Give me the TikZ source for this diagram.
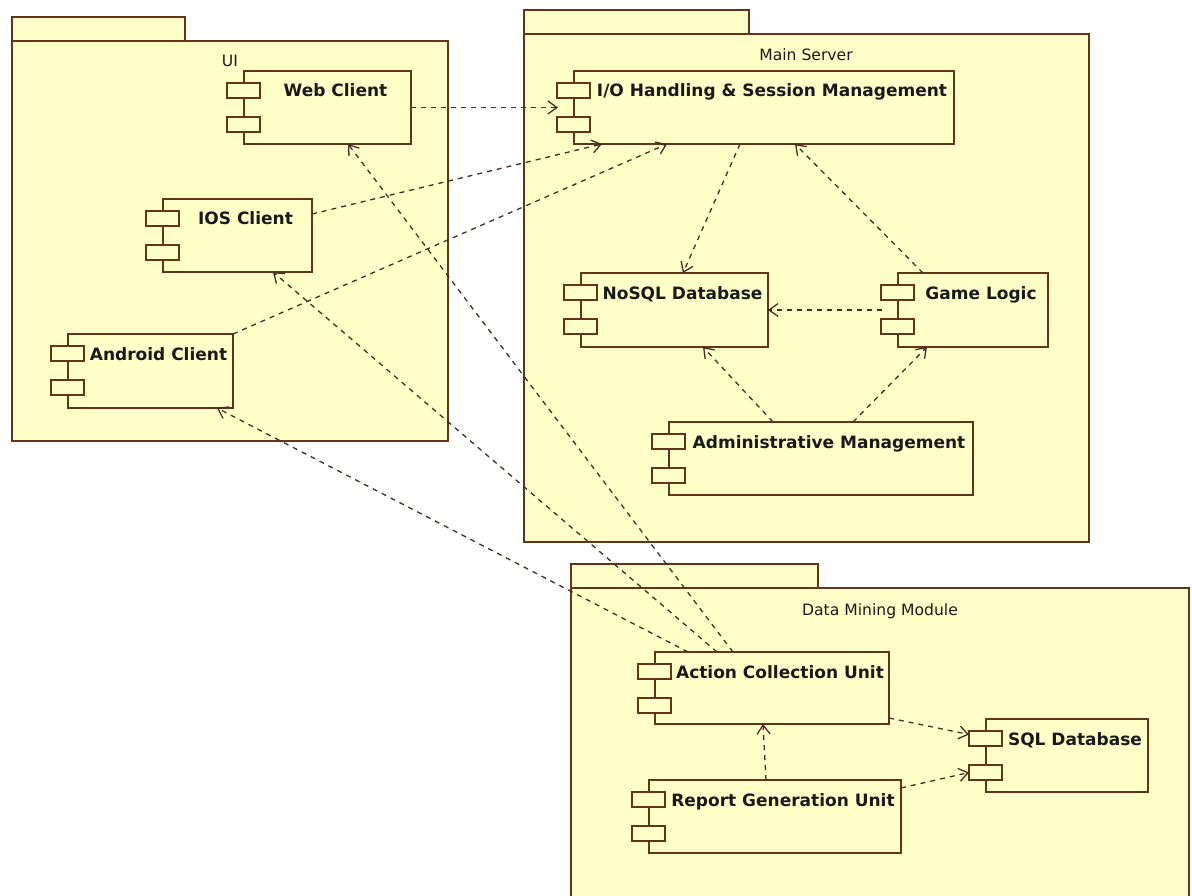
\documentclass[tikz,border=0pt]{standalone}
\usepackage{fontspec}
\setmainfont{DejaVu Sans}
\usetikzlibrary{arrows.meta,calc}
\definecolor{pkgfill}{RGB}{255,255,200}
\definecolor{edgecol}{RGB}{100,52,24}
\definecolor{depcol}{RGB}{70,45,35}
\definecolor{txtcol}{RGB}{25,25,25}
% name, x, y (top-left), width, height, text
\newcommand\umlcomp[6]{%
  \node[compbox, minimum width=#4pt, minimum height=#5pt, anchor=north west] (#1) at (#2,#3) {};
  \node[smallrect] (#1-p1) at ([shift={(-17pt,-12pt)}]#1.north west) {};
  \node[smallrect] (#1-p2) at ([shift={(-17pt,-46pt)}]#1.north west) {};
  \node[comptext] (#1-t) at ([shift={(8pt,-26pt)}]#1.north) {#6};
}
\begin{document}
\begin{tikzpicture}[x=1pt,y=-1pt,
  pkg/.style={draw=edgecol, fill=pkgfill, line width=1.3pt},
  compbox/.style={draw=edgecol, fill=pkgfill, line width=1.3pt, inner sep=0pt, outer sep=0pt},
  smallrect/.style={draw=edgecol, fill=pkgfill, line width=1.3pt, inner sep=0pt, outer sep=0pt, minimum width=33pt, minimum height=15pt, anchor=north west},
  comptext/.style={font=\fontsize{17}{20}\selectfont\bfseries, text=txtcol, inner sep=0pt, anchor=base},
  pkglabel/.style={font=\fontsize{15.6}{18}\selectfont, text=txtcol, inner sep=0pt, anchor=base},
  depend/.style={draw=depcol, line width=1.3pt, dash pattern=on 5pt off 5pt, -{Straight Barb[length=9pt,width=13pt]}},
]
\fill[white] (0,0) rectangle (1192,896);
\useasboundingbox (0,0) rectangle (1192,896);

% packages
\draw[pkg] (12,17) rectangle (185,41);
\draw[pkg] (12,41) rectangle (448,441);
\node[pkglabel] (uilabel) at (230,67) {UI};

\draw[pkg] (524,10) rectangle (749,34);
\draw[pkg] (524,34) rectangle (1089,542);
\node[pkglabel] (mslabel) at (806,61) {Main Server};

\draw[pkg] (571,564) rectangle (818,588);
\draw[pkg] (571,588) rectangle (1189,905);
\node[pkglabel] (dmlabel) at (880,615) {Data Mining Module};

% components
\umlcomp{web}{244}{71}{167}{73}{Web Client}
\umlcomp{io}{574}{71}{380}{73}{I/O Handling \& Session Management}
\umlcomp{ios}{163}{199}{149}{73}{IOS Client}
\umlcomp{android}{68}{334}{165}{74}{Android Client}
\umlcomp{nosql}{581}{273}{187}{74}{NoSQL Database}
\umlcomp{game}{898}{273}{150}{74}{Game Logic}
\umlcomp{admin}{669}{422}{304}{73}{Administrative Management}
\umlcomp{action}{655}{652}{234}{72}{Action Collection Unit}
\umlcomp{report}{649}{780}{252}{73}{Report Generation Unit}
\umlcomp{sql}{986}{719}{162}{73}{SQL Database}

% dependencies
\draw[depend] (web.east) -- ([xshift=-16pt]io.west);
\draw[depend] ([yshift=-15pt]ios.north east) -- ([xshift=28pt]io.south west);
\draw[depend] (android.north east) -- ([xshift=93pt]io.south west);
\draw[depend] ([xshift=166pt]io.south west) -- ([xshift=102pt]nosql.north west);
\draw[depend] ([xshift=25pt]game.north west) -- ([xshift=221pt]io.south west);
\draw[depend] ([xshift=-16pt]game.west) -- (nosql.east);
\draw[depend] ([xshift=104pt]admin.north west) -- ([xshift=122pt]nosql.south west);
\draw[depend] ([xshift=184pt]admin.north west) -- ([xshift=29pt]game.south west);
\draw[depend] ([xshift=78pt]action.north west) -- ([xshift=104pt]web.south west);
\draw[depend] ([xshift=62pt]action.north west) -- ([xshift=110pt]ios.south west);
\draw[depend] ([xshift=33pt]action.north west) -- ([xshift=149pt]android.south west);
\draw[depend] ([yshift=6pt]action.south east) -- ([yshift=4pt]sql-p1.west);
\draw[depend] ([yshift=-8pt]report.north east) -- (sql-p2.west);
\draw[depend] ([xshift=117pt]report.north west) -- ([xshift=108pt]action.south west);
\end{tikzpicture}
\end{document}
